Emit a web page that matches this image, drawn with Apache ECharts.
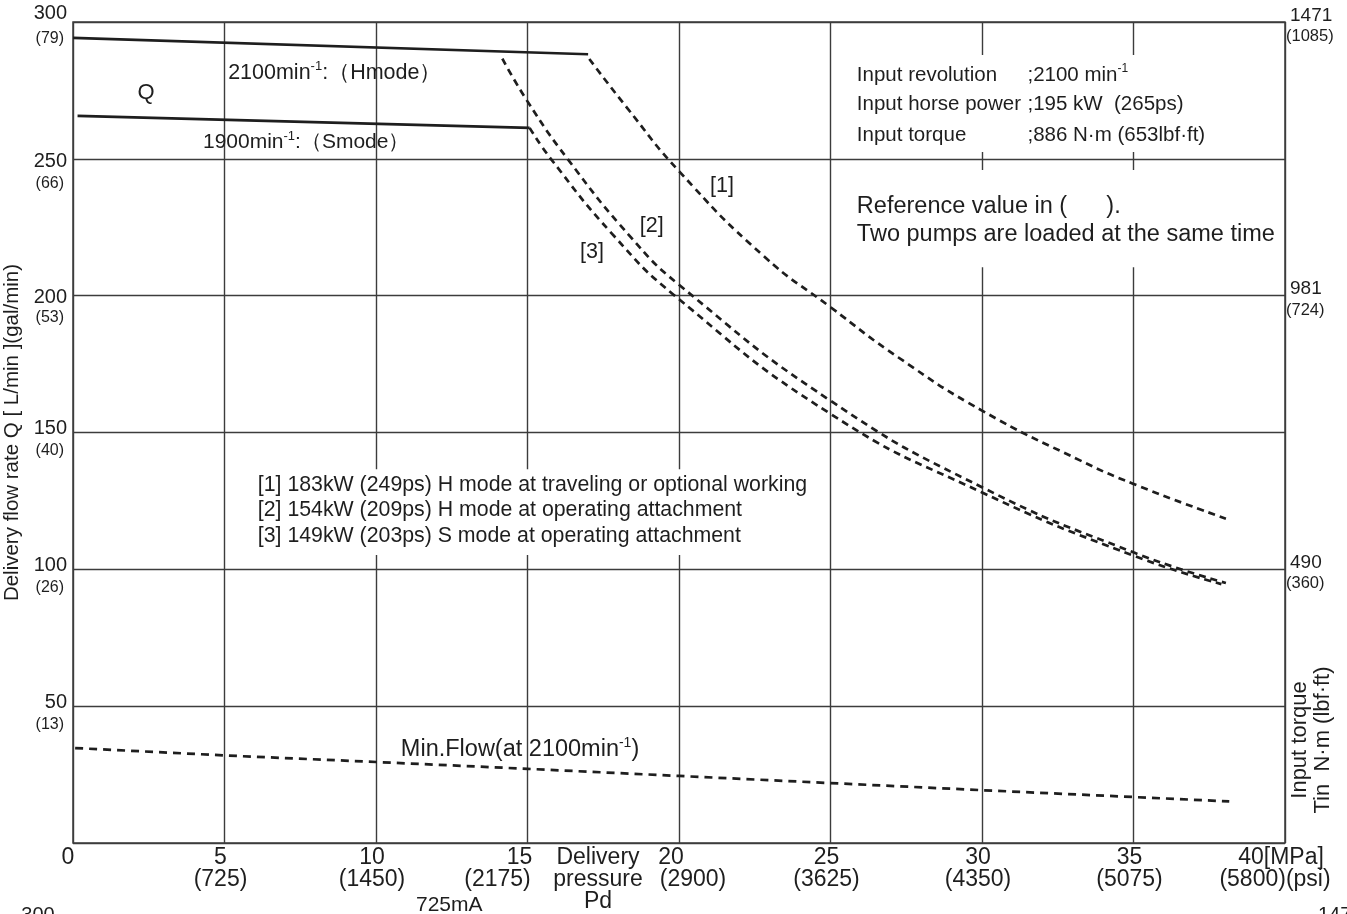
<!DOCTYPE html>
<html>
<head>
<meta charset="utf-8">
<title>Pump delivery flow</title>
<script src="https://cdn.jsdelivr.net/npm/echarts@6/dist/echarts.min.js"></script>
<style>
  html, body { margin: 0; padding: 0; background: #fff; }
  #chart { width: 1347px; height: 914px; }
</style>
</head>
<body>
<div id="chart"></div>
<script>
// axis ticks (pressure MPa / flow L/min) and the secondary unit labels
var pressureTicks = [0, 5, 10, 15, 20, 25, 30, 35, 40]
var mpaLabels = ['0', '5', '10', '15', '20', '25', '30', '35', '40[MPa]']
var psiLabels = ['', '(725)', '(1450)', '(2175)', '(2900)', '(3625)', '(4350)', '(5075)', '(5800)(psi)']
var flowTicks = [50, 100, 150, 200, 250, 300]
var galLabels = ['(13)', '(26)', '(40)', '(53)', '(66)', '(79)']
var torqueTicks = [100, 200, 300]
var torqueLabels = ['490', '981', '1471']
var torqueLbfLabels = ['(360)', '(724)', '(1085)']

// curves: pressure [MPa] -> flow [L/min]
var hModeP = [0, 17.0]
var hModeQ = [294.2, 288.2]
var sModeP = [0.15, 15.07]
var sModeQ = [265.7, 261.3]
var curve1P = [17.04, 18.26, 20, 22.78, 25, 27.23, 30, 33.2, 35, 38.05]
var curve1Q = [286.5, 269, 245.5, 214.6, 195.8, 177.5, 158, 140, 131.2, 118.5]
var curve2P = [14.17, 15.0, 16.32, 18.4, 20, 25, 30, 35, 38.05]
var curve2Q = [286.6, 271, 250, 221.5, 204, 161.6, 130, 106.2, 95.0]
var curve3P = [15.07, 15.77, 17.8, 19.86, 25, 30, 35, 37.9]
var curve3Q = [261.3, 250, 222.5, 200, 156.8, 128.1, 105, 94.6]
var minFlowP = [0.07, 5, 10, 15, 20, 30, 35, 38.16]
var minFlowQ = [34.7, 32, 29.6, 27.1, 24.5, 19.3, 16.8, 15.2]

var FONT = '"Liberation Sans", Arial, sans-serif'
var INK = '#1e1e1e'
var GRID = '#3c3c3c'

function pairs(xs, ys) {
  return xs.map(function (x, i) { return [x, ys[i]] })
}

var solid = { color: INK, width: 2.6 }
var dashed = { color: INK, width: 2.7, type: [7, 5] }

function copy(base, extra) {
  var s = {}
  for (var k in base) s[k] = base[k]
  for (var j in extra) s[j] = extra[j]
  return s
}

// x labels around "Delivery pressure" sit off their ticks in the original
var tickText = { fontSize: 23, lineHeight: 22, fontFamily: FONT, color: INK }
// left labels: the two rows sit a little differently at each gridline
var leftNum = { fontSize: 20, fontFamily: FONT, color: INK, align: 'right' }
var leftGal = { fontSize: 16, fontFamily: FONT, color: INK, align: 'right', padding: [0, 3, 0, 0] }
var leftRows = { 300: [14, 38], 250: [30, 14], 200: [24, 16] }

var leftRich = {}
flowTicks.forEach(function (v) {
  var rows = leftRows[v] || [16, 28]
  leftRich['n' + v] = copy(leftNum, { lineHeight: rows[0] })
  leftRich['g' + v] = copy(leftGal, { lineHeight: rows[1] })
})

var chart = echarts.init(document.getElementById('chart'))

var option = {
  animation: false,
  backgroundColor: '#fff',
  grid: {
    left: 73, right: 62, top: 22, bottom: 71,
    outerBoundsMode: 'none',
    show: true, borderColor: GRID, borderWidth: 1.5, backgroundColor: 'transparent'
  },
  xAxis: {
    type: 'value', min: 0, max: 40, interval: 5,
    axisLine: { show: false },
    axisTick: { show: false },
    splitLine: { lineStyle: { color: GRID, width: 1.4 } },
    axisLabel: {
      margin: 4,
      formatter: function (v) {
        var i = pressureTicks.indexOf(v)
        if (i < 0) return ''
        if (i === 0) return '{z|0}'
        var n = 'n', p = 'p'
        if (v === 15) { n = 'n15'; p = 'p15' }
        if (v === 20) { n = 'n20'; p = 'p20' }
        if (v === 40) { p = 'p40' }
        return '{' + n + '|' + mpaLabels[i] + '}\n{' + p + '|' + psiLabels[i] + '}'
      },
      rich: {
        z: copy(tickText, { padding: [0, 10, 0, 0] }),
        n: copy(tickText, { padding: [0, 8, 0, 0] }),
        p: copy(tickText, { padding: [0, 8, 0, 0] }),
        n15: copy(tickText, { padding: [0, 16, 0, 0] }),
        p15: copy(tickText, { padding: [0, 60, 0, 0] }),
        n20: copy(tickText, { padding: [0, 16, 0, 0] }),
        p20: copy(tickText, { padding: [0, 0, 0, 28] }),
        p40: copy(tickText, { padding: [0, 20, 0, 0] })
      }
    }
  },
  yAxis: [
    {
      type: 'value', min: 0, max: 300, interval: 50,
      name: 'Delivery flow rate Q [ L/min ](gal/min)',
      nameLocation: 'middle', nameRotate: 90, nameGap: 46,
      nameTextStyle: { fontSize: 20.5, fontFamily: FONT, color: INK },
      axisLine: { show: false },
      axisTick: { show: false },
      splitLine: { lineStyle: { color: GRID, width: 1.4 } },
      axisLabel: {
        margin: 6,
        padding: [20, 0, 0, 0],
        formatter: function (v) {
          var i = flowTicks.indexOf(v)
          if (i < 0) return ''
          return '{n' + v + '|' + v + '}\n{g' + v + '|' + galLabels[i] + '}'
        },
        rich: leftRich
      }
    },
    {
      type: 'value', min: 0, max: 300, interval: 100, position: 'right',
      axisLine: { show: false },
      axisTick: { show: false },
      splitLine: { show: false },
      axisLabel: {
        margin: 1,
        padding: [8, 0, 0, 0],
        formatter: function (v) {
          var i = torqueTicks.indexOf(v)
          if (i < 0) return ''
          return '{n|' + torqueLabels[i] + '}\n{g|' + torqueLbfLabels[i] + '}'
        },
        rich: {
          n: { fontSize: 19, lineHeight: 21, fontFamily: FONT, color: INK, align: 'left', padding: [0, 0, 0, 4] },
          g: { fontSize: 16.5, lineHeight: 21, fontFamily: FONT, color: INK, align: 'left' }
        }
      }
    }
  ],
  series: [
    { name: 'H mode', type: 'line', data: pairs(hModeP, hModeQ), symbol: 'none', lineStyle: solid, z: 4 },
    { name: 'S mode', type: 'line', data: pairs(sModeP, sModeQ), symbol: 'none', lineStyle: solid, z: 4 },
    { name: '[1]', type: 'line', data: pairs(curve1P, curve1Q), symbol: 'none', smooth: 0.5, lineStyle: dashed, z: 4 },
    { name: '[2]', type: 'line', data: pairs(curve2P, curve2Q), symbol: 'none', smooth: 0.5, lineStyle: dashed, z: 4 },
    { name: '[3]', type: 'line', data: pairs(curve3P, curve3Q), symbol: 'none', smooth: 0.5, lineStyle: dashed, z: 4 },
    { name: 'Min.Flow', type: 'line', data: pairs(minFlowP, minFlowQ), symbol: 'none', lineStyle: { color: INK, width: 2.7, type: [8, 6] }, z: 4 }
  ]
}
chart.setOption(option)

// annotation anchors in data space (pressure, flow)
var notePos = {
  q: [2.41, 274], hmode: [5.12, 281.3], smode: [4.29, 256.1],
  c1: [21.42, 240], c2: [19.1, 225.4], c3: [17.13, 215.9], minFlow: [10.82, 34]
}
var infoLeft = 25.87, infoRight = 31.5, infoQ = [280.6, 270, 258.7]
var refQ = [232.7, 222.5]
var legendLeft = 6.1, legendQ = [130.8, 121.7, 112.2]
var boxes = [
  [[25.48, 287.9], [38.0, 252.5]],
  [[25.48, 245.9], [39.8, 210.4]],
  [[5.84, 136.6], [24.5, 105.2]]
]

function px(p, q) {
  return chart.convertToPixel({ gridIndex: 0 }, [p, q])
}

function rich(size) {
  return {
    t: { fontSize: size, fontFamily: FONT, fill: INK, lineHeight: size * 1.2 },
    s: { fontSize: Math.round(size * 0.6), fontFamily: FONT, fill: INK, lineHeight: 10, verticalAlign: 'top' }
  }
}

function note(pos, text, size, align) {
  var at = px(pos[0], pos[1])
  return {
    type: 'text', x: at[0], y: at[1], z: 10,
    style: {
      text: text, rich: rich(size), fontSize: size, fontFamily: FONT, fill: INK,
      align: align || 'left', verticalAlign: 'middle'
    }
  }
}

function plain(x, y, text, size, extra) {
  var el = {
    type: 'text', x: x, y: y, z: 10,
    style: { text: text, fontSize: size, fontFamily: FONT, fill: INK, align: 'center', verticalAlign: 'top' }
  }
  for (var k in extra) el.style[k] = extra[k]
  return el
}

var graphics = []
boxes.forEach(function (b) {
  var a = px(b[0][0], b[0][1])
  var c = px(b[1][0], b[1][1])
  graphics.push({
    type: 'rect', z: 2,
    shape: { x: a[0], y: a[1], width: c[0] - a[0], height: c[1] - a[1] },
    style: { fill: '#fff' }
  })
})

graphics.push(note(notePos.q, '{t|Q}', 22, 'center'))
graphics.push(note(notePos.hmode, '{t|2100min}{s|-1}{t|:（Hmode）}', 21.5))
graphics.push(note(notePos.smode, '{t|1900min}{s|-1}{t|:（Smode）}', 21))
graphics.push(note(notePos.c1, '{t|[1]}', 21.5, 'center'))
graphics.push(note(notePos.c2, '{t|[2]}', 21.5, 'center'))
graphics.push(note(notePos.c3, '{t|[3]}', 21.5, 'center'))
graphics.push(note(notePos.minFlow, '{t|Min.Flow(at 2100min}{s|-1}{t|)}', 23.5))

var infoNames = ['Input revolution', 'Input horse power', 'Input torque']
var infoValues = ['{t|;2100 min}{s|-1}', '{t|;195 kW  (265ps)}', '{t|;886 N·m (653lbf·ft)}']
infoQ.forEach(function (q, i) {
  graphics.push(note([infoLeft, q], '{t|' + infoNames[i] + '}', 20.5))
  graphics.push(note([infoRight, q], infoValues[i], 20.5))
})

var refLines = ['Reference value in (      ).', 'Two pumps are loaded at the same time']
refQ.forEach(function (q, i) {
  graphics.push(note([infoLeft, q], '{t|' + refLines[i] + '}', 23.5))
})

var legendLines = [
  '[1] 183kW (249ps) H mode at traveling or optional working',
  '[2] 154kW (209ps) H mode at operating attachment',
  '[3] 149kW (203ps) S mode at operating attachment'
]
legendQ.forEach(function (q, i) {
  graphics.push(note([legendLeft, q], '{t|' + legendLines[i] + '}', 21.3))
})

// texts outside the plot
graphics.push(plain(598, 847, 'Delivery\npressure\nPd', 23, { lineHeight: 22 }))
graphics.push({
  type: 'text', x: 1311, y: 740, rotation: Math.PI / 2, z: 10,
  style: {
    text: 'Input torque\nTin  N·m (lbf·ft)', fontSize: 22, lineHeight: 23,
    fontFamily: FONT, fill: INK, align: 'center', verticalAlign: 'middle'
  }
})
// top of the next chart, cut off by the page edge
graphics.push(plain(38, 905, '300', 20))
graphics.push(plain(416, 895, '725mA', 21, { align: 'left' }))
graphics.push(plain(1318, 905, '1471', 20, { align: 'left' }))

chart.setOption({ graphic: graphics })
</script>
</body>
</html>
